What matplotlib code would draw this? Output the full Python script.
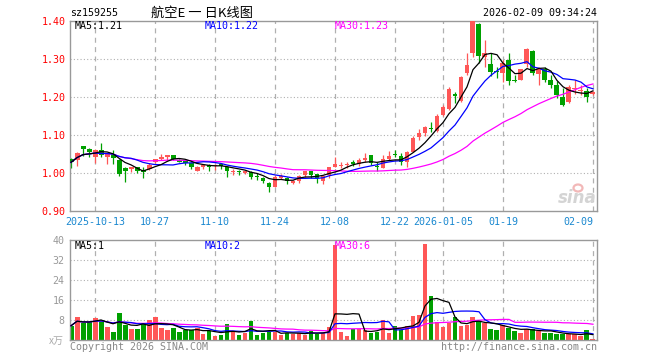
# -*- coding: utf-8 -*-
# Daily K-line chart for sz159255 (price candles + volume), Sina style
import numpy as np
import pandas as pd
import matplotlib
matplotlib.use("Agg")
import matplotlib.pyplot as plt
from matplotlib.patches import Ellipse

# ---------------- data ----------------
opens = [1.036, 1.034, 1.071, 1.064, 1.042, 1.060, 1.042, 1.049, 1.034, 1.014,
         1.010, 1.015, 1.007, 1.011, 1.028, 1.038, 1.042, 1.047, 1.034, 1.034,
         1.027, 1.006, 1.017, 1.022, 1.019, 1.023, 1.015, 1.003, 1.005, 1.001,
         1.003, 0.993, 0.987, 0.975, 0.964, 0.988, 0.988, 0.975, 0.979, 0.995,
         1.004, 0.998, 0.979, 0.995, 1.015, 1.018, 1.020, 1.030, 1.023, 1.033,
         1.047, 1.018, 1.014, 1.037, 1.049, 1.046, 1.030, 1.056, 1.094, 1.106,
         1.119, 1.111, 1.153, 1.168, 1.208, 1.190, 1.262, 1.315, 1.392, 1.304,
         1.288, 1.268, 1.264, 1.297, 1.244, 1.246, 1.287, 1.321, 1.261, 1.275,
         1.246, 1.232, 1.201, 1.188, 1.221, 1.217, 1.217, 1.208]
highs = [1.039, 1.055, 1.072, 1.067, 1.062, 1.080, 1.051, 1.061, 1.037, 1.016,
         1.017, 1.016, 1.017, 1.027, 1.038, 1.051, 1.048, 1.048, 1.036, 1.036,
         1.028, 1.018, 1.024, 1.024, 1.025, 1.025, 1.016, 1.011, 1.008, 1.006,
         1.004, 1.000, 0.990, 0.977, 0.995, 0.998, 0.990, 0.982, 0.994, 1.006,
         1.006, 0.998, 0.995, 1.016, 1.043, 1.030, 1.030, 1.035, 1.040, 1.053,
         1.048, 1.030, 1.047, 1.058, 1.060, 1.052, 1.059, 1.097, 1.117, 1.124,
         1.135, 1.155, 1.179, 1.227, 1.214, 1.255, 1.315, 1.400, 1.396, 1.350,
         1.315, 1.280, 1.297, 1.315, 1.258, 1.275, 1.328, 1.323, 1.276, 1.278,
         1.258, 1.241, 1.223, 1.231, 1.245, 1.232, 1.223, 1.217]
lows = [1.014, 1.019, 1.044, 1.043, 1.027, 1.043, 1.025, 1.025, 0.993, 0.977,
        1.003, 1.000, 0.988, 1.008, 1.026, 1.033, 1.034, 1.034, 1.028, 1.020,
        1.010, 1.004, 1.010, 1.005, 1.008, 1.011, 0.989, 0.995, 0.996, 0.998,
        0.983, 0.981, 0.975, 0.949, 0.962, 0.983, 0.972, 0.972, 0.975, 0.990,
        0.988, 0.975, 0.972, 0.987, 1.015, 1.012, 1.014, 1.018, 1.018, 1.030,
        1.021, 1.004, 1.012, 1.035, 1.043, 1.020, 1.017, 1.054, 1.088, 1.097,
        1.109, 1.109, 1.149, 1.165, 1.185, 1.188, 1.258, 1.305, 1.290, 1.280,
        1.254, 1.249, 1.240, 1.232, 1.240, 1.244, 1.280, 1.258, 1.232, 1.240,
        1.223, 1.197, 1.177, 1.185, 1.208, 1.205, 1.188, 1.205]
closes = [1.028, 1.053, 1.064, 1.056, 1.061, 1.047, 1.049, 1.040, 0.997, 1.006,
          1.015, 1.006, 1.003, 1.022, 1.037, 1.042, 1.047, 1.036, 1.029, 1.027,
          1.017, 1.017, 1.022, 1.017, 1.021, 1.018, 1.006, 1.006, 1.003, 1.005,
          0.990, 0.990, 0.978, 0.964, 0.990, 0.993, 0.979, 0.979, 0.992, 1.004,
          0.995, 0.986, 0.992, 1.016, 1.024, 1.020, 1.025, 1.023, 1.035, 1.039,
          1.027, 1.016, 1.037, 1.045, 1.047, 1.028, 1.056, 1.091, 1.104, 1.120,
          1.116, 1.150, 1.173, 1.221, 1.203, 1.252, 1.284, 1.400, 1.308, 1.315,
          1.267, 1.266, 1.289, 1.243, 1.242, 1.273, 1.327, 1.262, 1.273, 1.246,
          1.232, 1.205, 1.179, 1.227, 1.223, 1.218, 1.199, 1.214]
# volume in 10k (万)
volumes = [5.7, 9.3, 6.7, 7.1, 8.9, 8.1, 5.1, 3.3, 10.9, 6.0,
           4.5, 4.5, 6.3, 7.9, 9.1, 4.9, 3.9, 4.7, 3.3, 4.0,
           3.9, 5.0, 2.5, 3.5, 1.8, 2.1, 6.4, 3.6, 2.1, 2.9,
           7.6, 2.1, 2.9, 3.2, 3.2, 2.0, 3.0, 2.5, 3.0, 2.2,
           3.5, 2.5, 3.0, 5.2, 38.1, 3.3, 1.7, 4.4, 4.4, 3.9,
           2.7, 3.1, 8.1, 2.9, 5.7, 4.1, 5.7, 9.7, 10.1, 38.5,
           17.5, 7.3, 5.3, 6.7, 9.3, 5.5, 5.9, 9.3, 7.7, 6.7,
           4.5, 4.1, 5.9, 4.9, 3.7, 2.7, 4.5, 4.4, 3.7, 2.9,
           2.7, 2.3, 2.3, 2.3, 2.3, 1.7, 3.9, 0.5]

# trading-day index of each labelled date
tick_idx = [4, 14, 24, 34, 44, 54, 62, 72, 87]
tick_labels = ["2025-10-13", "10-27", "11-10", "11-24", "12-08",
               "12-22", "2026-01-05", "01-19", "02-09"]
price_ticks = [0.90, 1.00, 1.10, 1.20, 1.30, 1.40]
vol_ticks = [8, 16, 24, 32, 40]

# ---------------- style ----------------
RED = "#ff5757"
GREEN = "#00a000"
GRID = "#b0b0b0"
FRAME = "#999999"
DATE_BLUE = "#1a88d0"
FS = 7.2
plt.rcParams["font.family"] = ["DejaVu Sans Mono"]

o = np.array(opens)
h = np.array(highs)
l = np.array(lows)
c = np.array(closes)
v = np.array(volumes)
x = np.arange(len(c))
cols = np.where(c >= o, RED, GREEN)


def ma(vals, k):
    return pd.Series(vals).rolling(k, min_periods=1).mean().values


W, H = 660.0, 360.0
fig = plt.figure(figsize=(6.6, 3.6), dpi=100)
fig.patch.set_facecolor("white")
ax = fig.add_axes([70 / W, 1 - 211 / H, 527 / W, 190 / H])
axv = fig.add_axes([70 / W, 1 - 340 / H, 527 / W, 100 / H])

for a in (ax, axv):
    a.set_xlim(-0.17, 87.67)
    for s in a.spines.values():
        s.set_color(FRAME)
        s.set_linewidth(1.0)
    for t in tick_idx:
        a.axvline(t, color=GRID, ls=(0, (4, 3.5)), lw=0.9, zorder=0)

# ---- price panel ----
for p in price_ticks[1:-1]:
    ax.axhline(p, color=GRID, ls=(0, (1, 2)), lw=0.8, zorder=0)
ax.vlines(x, l, h, colors=cols, lw=0.9, zorder=2)
ax.bar(x, np.maximum(np.abs(c - o), 0.0026), bottom=np.minimum(o, c),
       width=0.83, color=cols, lw=0, zorder=3)
ax.plot(x, ma(c, 30), color="#ff00ff", lw=0.9, zorder=4)
ax.plot(x, ma(c, 10), color="#0000ff", lw=0.9, zorder=4)
ax.plot(x, ma(c, 5), color="black", lw=0.9, zorder=4)
ax.set_ylim(0.90, 1.40)
ax.set_yticks(price_ticks)
ax.set_yticklabels(["%.2f" % p for p in price_ticks])
ax.tick_params(axis="y", length=0, pad=3, labelcolor="red", labelsize=FS)
ax.set_xticks(tick_idx)
ax.set_xticklabels(tick_labels)
ax.tick_params(axis="x", length=0, pad=4, labelcolor=DATE_BLUE, labelsize=FS)
ax.get_xticklabels()[-1].set_ha("right")

ax.text(5 / 527, 185 / 190, "MA5:1.21", transform=ax.transAxes,
        color="black", fontsize=FS, va="center")
ax.text(135 / 527, 185 / 190, "MA10:1.22", transform=ax.transAxes,
        color="#0000ff", fontsize=FS, va="center")
ax.text(265 / 527, 185 / 190, "MA30:1.23", transform=ax.transAxes,
        color="#ff00ff", fontsize=FS, va="center")

# sina watermark
fig.text(597 / W, 1 - 198 / H, "sina", color="#d4d4d4", fontsize=12,
         fontweight="bold", style="italic", family="DejaVu Sans",
         ha="right", va="center")
fig.add_artist(Ellipse((578 / W, 1 - 188 / H), 9 / W, 7 / H,
                       transform=fig.transFigure, fc="none",
                       ec="#f2b8b8", lw=1.6))

# ---- volume panel ----
for p in vol_ticks[:-1]:
    axv.axhline(p, color=GRID, ls=(0, (1, 2)), lw=0.8, zorder=0)
axv.bar(x, v, width=0.83, color=cols, lw=0, zorder=2)
axv.plot(x, ma(v, 30), color="#ff00ff", lw=0.9, zorder=4)
axv.plot(x, ma(v, 10), color="#0000ff", lw=0.9, zorder=4)
axv.plot(x, ma(v, 5), color="black", lw=0.9, zorder=4)
axv.set_ylim(0, 40)
axv.set_yticks(vol_ticks)
axv.set_yticklabels([str(t) for t in vol_ticks])
axv.tick_params(axis="y", length=0, pad=4, labelcolor="#999999", labelsize=FS)
axv.set_xticks([])

axv.text(5 / 527, 94 / 100, "MA5:1", transform=axv.transAxes,
         color="black", fontsize=FS, va="center")
axv.text(135 / 527, 94 / 100, "MA10:2", transform=axv.transAxes,
         color="#0000ff", fontsize=FS, va="center")
axv.text(265 / 527, 94 / 100, "MA30:6", transform=axv.transAxes,
         color="#ff00ff", fontsize=FS, va="center")

# ---- header / footer texts ----
fig.text(70 / W, 1 - 13 / H, "sz159255", fontsize=FS, va="center")
fig.text(202 / W, 1 - 13 / H, "航空E 一 日K线图", fontsize=9.5, va="center",
         ha="center", family=["Noto Sans CJK SC", "DejaVu Sans"])
fig.text(597 / W, 1 - 13 / H, "2026-02-09 09:34:24", fontsize=FS,
         va="center", ha="right")
fig.text(64 / W, 1 - 341 / H, "x万", fontsize=FS, color="#aaaaaa",
         va="center", ha="right", family=["Noto Sans CJK SC", "DejaVu Sans"])
fig.text(70 / W, 1 - 347 / H, "Copyright 2026 SINA.COM", fontsize=FS,
         color="#888888", va="center")
fig.text(597 / W, 1 - 347 / H, "http://finance.sina.com.cn", fontsize=FS,
         color="#888888", va="center", ha="right")

fig.savefig("out.png", dpi=100, facecolor="white")
